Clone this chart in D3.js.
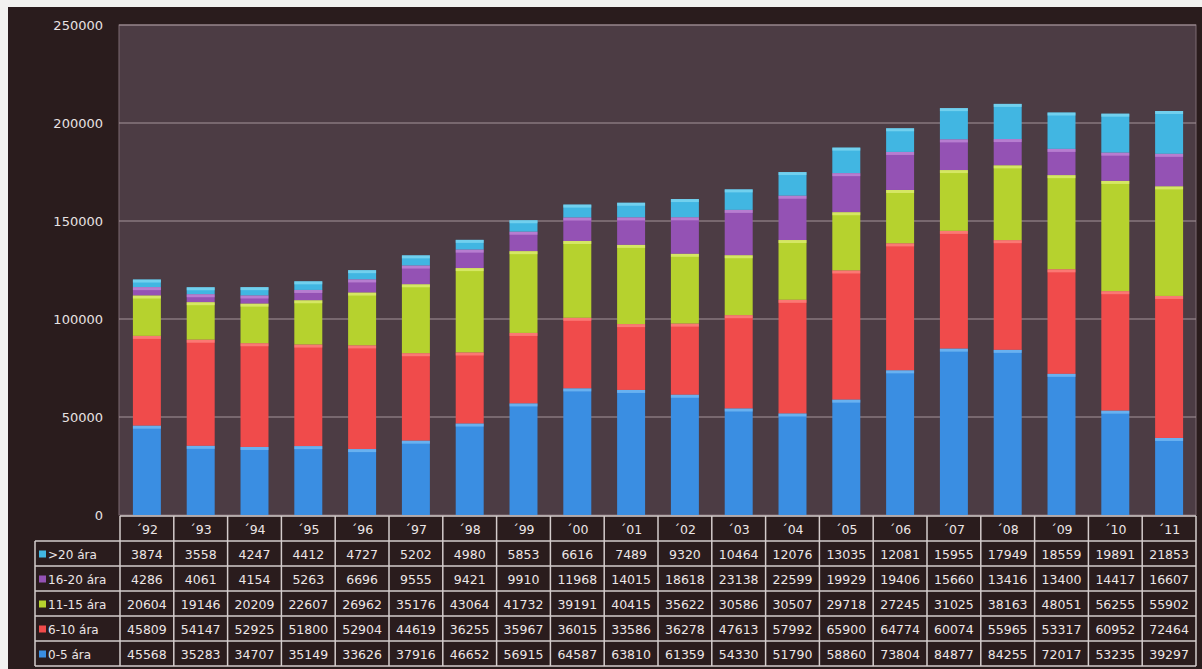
<!DOCTYPE html>
<html>
<head>
<meta charset="utf-8">
<script src="https://cdn.jsdelivr.net/npm/d3@7/dist/d3.min.js"></script>
<style>
html,body{margin:0;padding:0;background:#f2f2f0;}
svg{display:block;}
text{font-family:"DejaVu Sans",Verdana,sans-serif;}
</style>
</head>
<body>
<svg id="chart" width="1202" height="669"></svg>
<script>
const years = ["´92","´93","´94","´95","´96","´97","´98","´99","´00","´01","´02","´03","´04","´05","´06","´07","´08","´09","´10","´11"];
const seriesNames = ["0-5 ára","6-10 ára","11-15 ára","16-20 ára",">20 ára"];
const s0_5   = [45568,35283,34707,35149,33626,37916,46652,56915,64587,63810,61359,54330,51790,58860,73804,84877,84255,72017,53235,39297];
const s6_10  = [45809,54147,52925,51800,52904,44619,36255,35967,36015,33586,36278,47613,57992,65900,64774,60074,55965,53317,60952,72464];
const s11_15 = [20604,19146,20209,22607,26962,35176,43064,41732,39191,40415,35622,30586,30507,29718,27245,31025,38163,48051,56255,55902];
const s16_20 = [4286,4061,4154,5263,6696,9555,9421,9910,11968,14015,18618,23138,22599,19929,19406,15660,13416,13400,14417,16607];
const s20p   = [3874,3558,4247,4412,4727,5202,4980,5853,6616,7489,9320,10464,12076,13035,12081,15955,17949,18559,19891,21853];
const yTicks = [0,50000,100000,150000,200000,250000];
const colors = ["#3a8ee2","#f04b4b","#b6d22e","#9452b4","#41b6e2"];
const highlights = ["#7cc0f6","#ff8c84","#e2f07a","#c690dc","#86dcf4"];

const seriesVals = [s0_5,s6_10,s11_15,s16_20,s20p];
const table = years.map((y,i)=>{const o={year:y}; seriesNames.forEach((n,k)=>o[n]=seriesVals[k][i]); return o;});

const svg = d3.select("#chart");
svg.append("rect").attr("x",8).attr("y",7).attr("width",1194).attr("height",662).attr("fill","#2a1c1d");

const plotL=119, plotR=1196, plotT=25, plotB=515;
const y = d3.scaleLinear().domain([0,250000]).range([plotB,plotT]);
const x = d3.scaleBand().domain(years).range([120,1196]).paddingInner(0.48).paddingOuter(0.24);
const xc = d3.scaleBand().domain(years).range([120,1196]).padding(0);

svg.append("rect").attr("x",plotL).attr("y",plotT).attr("width",plotR-plotL).attr("height",plotB-plotT)
  .attr("fill","#4c3c44").attr("stroke","#7c6b72").attr("stroke-width",1);

svg.append("g").selectAll("line").data(yTicks.filter(d=>d>0)).join("line")
  .attr("x1",plotL).attr("x2",plotR).attr("y1",d=>y(d)).attr("y2",d=>y(d))
  .attr("stroke","#a4939a").attr("stroke-width",1.2);

const yAxis = d3.axisLeft(y).tickValues(yTicks).tickSize(0).tickPadding(0).tickFormat(d3.format("d"));
const ga = svg.append("g").attr("transform","translate(103,0)").call(yAxis);
ga.select(".domain").remove();
ga.selectAll("text").attr("fill","#e8e2e2").attr("font-size","13px").attr("dy","0.35em");

const stack = d3.stack().keys(seriesNames)(table);
const gs = svg.append("g").selectAll("g").data(stack).join("g").attr("fill",(d,i)=>colors[i]);
gs.selectAll("rect").data(d=>d).join("rect")
  .attr("x",d=>x(d.data.year)).attr("width",x.bandwidth())
  .attr("y",d=>y(d[1])).attr("height",d=>y(d[0])-y(d[1]));
const gh = svg.append("g").selectAll("g").data(stack).join("g").attr("fill",(d,i)=>highlights[i]);
gh.selectAll("rect").data(d=>d).join("rect")
  .attr("x",d=>x(d.data.year)).attr("width",x.bandwidth())
  .attr("y",d=>y(d[1])).attr("height",d=>Math.min(3,y(d[0])-y(d[1])))
  .attr("opacity",0.7);

const rowH=25, tTop=516, labL=35;
const rowOrder = seriesNames.slice().reverse();
const tg = svg.append("g");
const lineCol="#d4cccc";
tg.selectAll("text.hdr").data(years).join("text").attr("class","hdr")
  .attr("x",d=>xc(d)+xc.bandwidth()/2).attr("y",tTop+rowH/2+1).attr("dy","0.35em")
  .attr("text-anchor","middle").attr("fill","#ece6e6").attr("font-size","12.5px").text(d=>d);
for(let r=0;r<=6;r++){
  const yy=tTop+r*rowH;
  tg.append("line").attr("x1",r===0?120:labL).attr("x2",1196).attr("y1",yy).attr("y2",yy)
    .attr("stroke",lineCol).attr("stroke-width",1.5);
}
tg.append("line").attr("x1",labL).attr("x2",labL).attr("y1",tTop+rowH).attr("y2",tTop+6*rowH).attr("stroke",lineCol).attr("stroke-width",1.5);
years.forEach(yr=>{
  tg.append("line").attr("x1",xc(yr)).attr("x2",xc(yr)).attr("y1",tTop).attr("y2",tTop+6*rowH).attr("stroke",lineCol).attr("stroke-width",1.5);
});
tg.append("line").attr("x1",1196).attr("x2",1196).attr("y1",tTop).attr("y2",tTop+6*rowH).attr("stroke",lineCol).attr("stroke-width",1.5);

rowOrder.forEach((name,r)=>{
  const k = seriesNames.indexOf(name);
  const cy = tTop+(r+1)*rowH+rowH/2+1;
  tg.append("rect").attr("x",labL+4).attr("y",cy-4).attr("width",7).attr("height",7).attr("fill",colors[k]);
  tg.append("text").attr("x",labL+13).attr("y",cy).attr("dy","0.35em").attr("fill","#ece6e6")
    .attr("font-size","12px").text(name);
  tg.selectAll(null).data(table).join("text")
    .attr("x",d=>xc(d.year)+xc.bandwidth()/2).attr("y",cy).attr("dy","0.35em")
    .attr("text-anchor","middle").attr("fill","#ece6e6").attr("font-size","12.5px")
    .text(d=>d[name]);
});
</script>
</body>
</html>
